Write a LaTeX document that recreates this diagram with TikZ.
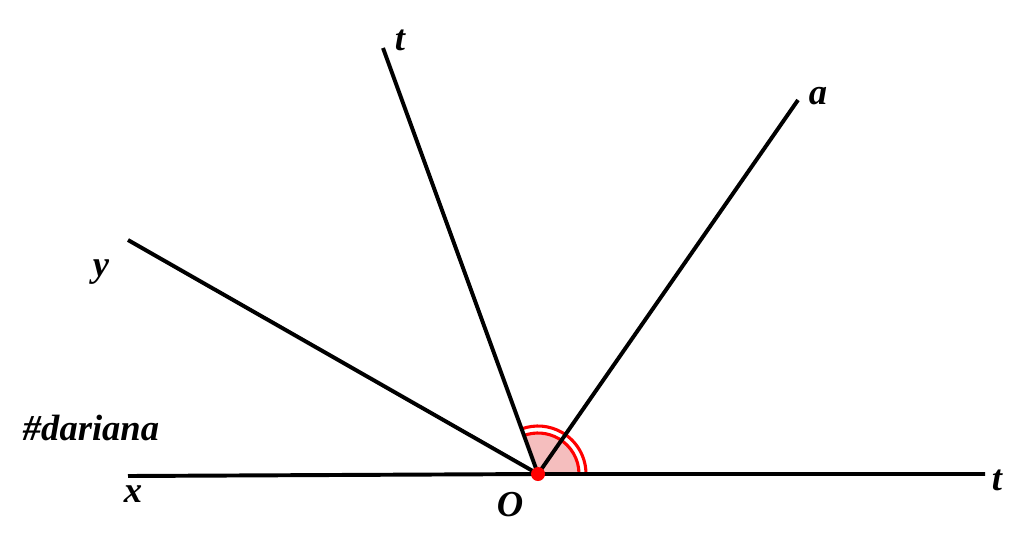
\documentclass[tikz,border=0pt]{standalone}
\usepackage{fontspec}
\setmainfont{Liberation Serif}
\usetikzlibrary{positioning,calc}

\tikzstyle{ray} = [draw, line width=2.8pt]
\tikzstyle{raylabel} = [font=\fontsize{26}{28}\selectfont\bfseries\itshape, inner sep=0pt]
\tikzstyle{anglemark} = [draw=red, line width=2.2pt]
\definecolor{pink1}{RGB}{245,190,190}

\begin{document}
\begin{tikzpicture}[x=0.025cm, y=-0.025cm]
  \useasboundingbox (0,0) rectangle (1024,541);

  \coordinate (O) at (538,474);
  \coordinate (xend) at (128,476);
  \coordinate (tend) at (985,474);
  \coordinate (yend) at (128,240);
  \coordinate (ttop) at (383,48);
  \coordinate (aend) at (798,100);

  % angle mark between Ot and the top ray
  \fill [pink1] (O) -- ++(0:41) arc[start angle=0, end angle=-110, radius=41] -- cycle;
  \draw [anglemark] ($(O)+(0:41)$) arc[start angle=0, end angle=-110, radius=41];
  \draw [anglemark] ($(O)+(0:48)$) arc[start angle=0, end angle=-110, radius=48];

  \draw [ray] (xend) -- (O) -- (tend);
  \draw [ray] (O) -- (yend);
  \draw [ray] (O) -- (ttop);
  \draw [ray] (O) -- (aend);

  \fill [red] (O) circle (7);

  \node [raylabel] (lt) at (400,40) {t};
  \node [raylabel] (la) at (818,96) {a};
  \node [raylabel] (ly) at (101,272) {y};
  \node [raylabel] (lx) at (133,494) {x};
  \node [raylabel] (lO) at (510,505) {O};
  \node [raylabel] (lt2) at (997,480) {t};
  \node [raylabel] (tag) at (91,428) {\#dariana};
\end{tikzpicture}
\end{document}
